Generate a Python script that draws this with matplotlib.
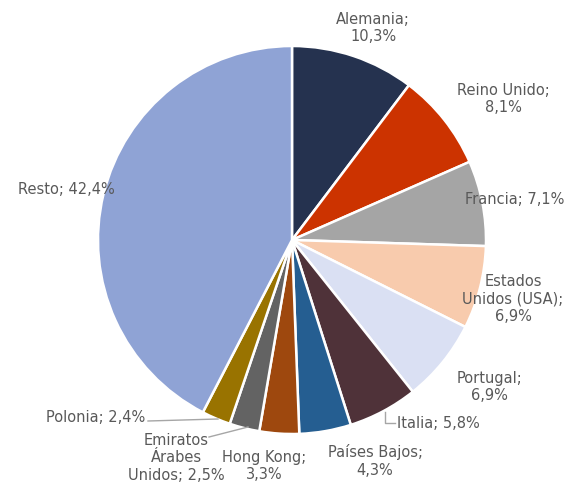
import matplotlib
matplotlib.use("Agg")
import matplotlib.pyplot as plt

# datos: destino de exportaciones (% del total)
paises = ["Alemania", "Reino Unido", "Francia", "Estados\nUnidos (USA)", "Portugal",
          "Italia", "Países Bajos", "Hong Kong", "Emiratos\nÁrabes\nUnidos", "Polonia", "Resto"]
valores = [10.3, 8.1, 7.1, 6.9, 6.9, 5.8, 4.3, 3.3, 2.5, 2.4, 42.4]
colores = ["#25324F", "#CC3300", "#A5A5A5", "#F8CBAD", "#DAE0F3",
           "#4F3239", "#255E91", "#9E480E", "#636363", "#997300", "#8FA3D5"]

W, H = 568, 482
CX, CY, R = 292, 240, 194
TXT = "#595959"

# posiciones de etiquetas en pixeles (x, y desde arriba), alineacion
etiq_pos = [(373, 28, "center"), (503, 99, "center"), (515, 200, "center"),
            (513, 299, "center"), (489, 387, "center"), (397, 423, "left"),
            (375, 461, "center"), (264, 466, "center"), (176, 458, "center"),
            (145, 418, "right"), (66, 190, "center")]
dos_lineas = {"Alemania", "Reino Unido", "Portugal", "Países Bajos", "Hong Kong",
              "Estados\nUnidos (USA)"}

fig = plt.figure(figsize=(W / 100, H / 100), dpi=100)
ax = fig.add_axes([0, 0, 1, 1])

ax.pie(valores, colors=colores, startangle=90, counterclock=False,
       center=(CX, H - CY), radius=R,
       wedgeprops=dict(edgecolor="white", linewidth=1.8))
ax.set_xlim(0, W)
ax.set_ylim(0, H)
ax.set_aspect("equal")
ax.axis("off")

for nombre, v, (x, y, ha) in zip(paises, valores, etiq_pos):
    sep = ";\n" if nombre in dos_lineas else "; "
    txt = f"{nombre}{sep}{v:.1f}%".replace(".", ",")
    ax.text(x, H - y, txt, ha=ha, va="center", color=TXT, fontsize=10.5,
            family="DejaVu Sans", linespacing=1.2, multialignment="center")

# lineas guia
guia = dict(color="#A6A6A6", lw=1)
ax.plot([385, 385, 395], [H - 412, H - 423, H - 423], **guia)
ax.plot([209, 248], [H - 437, H - 427], **guia)
ax.plot([148, 218], [H - 421, H - 419], **guia)

fig.savefig("out.png", dpi=100)
